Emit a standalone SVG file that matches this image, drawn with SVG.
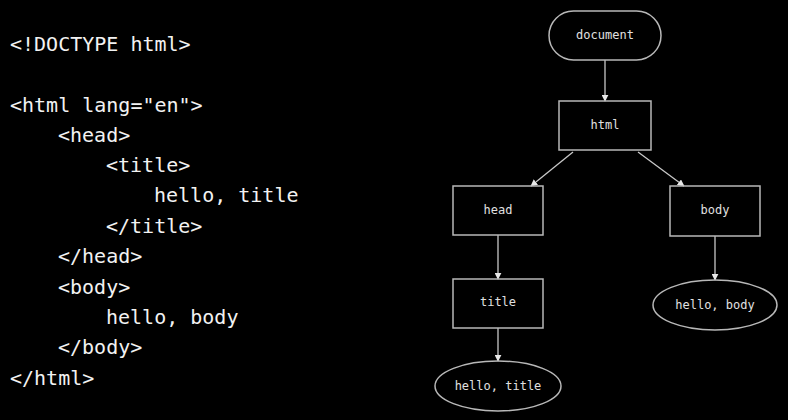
<svg xmlns="http://www.w3.org/2000/svg" width="788" height="420" viewBox="0 0 788 420">
<defs>
<style>
.code{font-family:"DejaVu Sans Mono","Liberation Mono",monospace;font-size:20px;fill:#f2f2f2;white-space:pre}
.node{fill:none;stroke:#b8b8b8;stroke-width:1.5}
.lbl{font-family:"DejaVu Sans Mono","Liberation Mono",monospace;font-size:12px;fill:#e0e0e0;text-anchor:middle;dominant-baseline:central}
.edge{stroke:#c8c8c8;stroke-width:1.3;fill:none;marker-end:url(#ah)}
</style>
<marker id="ah" viewBox="0 0 10 10" refX="9" refY="5" markerWidth="7" markerHeight="7" markerUnits="userSpaceOnUse" orient="auto">
<path d="M0,0 L10,5 L0,10 z" fill="#e8e8e8"/>
</marker>
</defs>
<rect width="788" height="420" fill="#000"/>
<g id="code">
<text class="code" x="10" y="51">&lt;!DOCTYPE html&gt;</text>
<text class="code" x="10" y="112">&lt;html lang="en"&gt;</text>
<text class="code" x="58" y="142">&lt;head&gt;</text>
<text class="code" x="106" y="172">&lt;title&gt;</text>
<text class="code" x="154" y="202">hello, title</text>
<text class="code" x="106" y="233">&lt;/title&gt;</text>
<text class="code" x="58" y="263">&lt;/head&gt;</text>
<text class="code" x="58" y="294">&lt;body&gt;</text>
<text class="code" x="106" y="324">hello, body</text>
<text class="code" x="58" y="354">&lt;/body&gt;</text>
<text class="code" x="10" y="385">&lt;/html&gt;</text>
</g>
<g id="connectors">
<line class="edge" x1="605" y1="60" x2="605" y2="101"/>
<line class="edge" x1="573" y1="152" x2="531" y2="186"/>
<line class="edge" x1="638" y1="152" x2="684" y2="186"/>
<line class="edge" x1="498" y1="235" x2="498" y2="279"/>
<line class="edge" x1="498" y1="328" x2="498" y2="361"/>
<line class="edge" x1="715" y1="236" x2="715" y2="280"/>
</g>
<g id="document"><rect class="node" x="549" y="11" width="112" height="49" rx="24.5"/><text class="lbl" x="605" y="35">document</text></g>
<g id="html"><rect class="node" x="559" y="101" width="92" height="49"/><text class="lbl" x="605" y="125">html</text></g>
<g id="head"><rect class="node" x="453" y="186" width="90" height="49"/><text class="lbl" x="498" y="210">head</text></g>
<g id="body"><rect class="node" x="670" y="186" width="90" height="50"/><text class="lbl" x="715" y="210">body</text></g>
<g id="title"><rect class="node" x="453" y="279" width="90" height="49"/><text class="lbl" x="498" y="302">title</text></g>
<g id="hello-title"><ellipse class="node" cx="498" cy="386" rx="63" ry="25"/><text class="lbl" x="498" y="386">hello, title</text></g>
<g id="hello-body"><ellipse class="node" cx="715" cy="305" rx="62" ry="25"/><text class="lbl" x="715" y="305">hello, body</text></g>
</svg>
